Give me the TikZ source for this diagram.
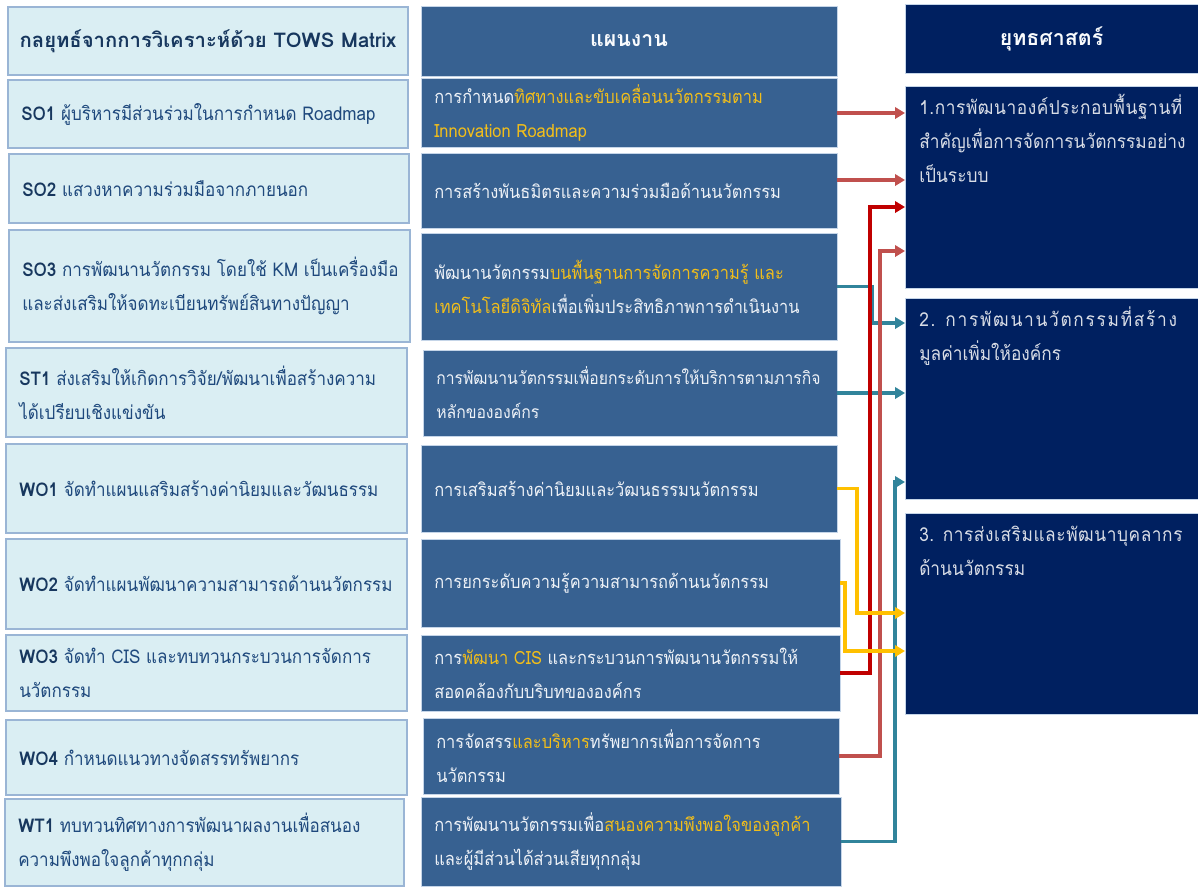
\documentclass[tikz,border=0pt]{standalone}
\usepackage{fontspec}
\setmainfont[Script=Thai, FakeStretch=0.9]{Loma}
\newfontfamily\hfont[Script=Thai]{Loma}
\newfontfamily\lsa[Script=Thai, FakeStretch=0.9, LetterSpace=3]{Loma}
\newfontfamily\lsb[Script=Thai, FakeStretch=0.9, LetterSpace=9]{Loma}
\usetikzlibrary{arrows.meta}
\definecolor{lfill}{HTML}{DAEEF3}
\definecolor{ldraw}{HTML}{9AB5D5}
\definecolor{ltext}{HTML}{1F497D}
\definecolor{lbold}{HTML}{17375E}
\definecolor{mfill}{HTML}{376191}
\definecolor{mdraw}{HTML}{C5D5E8}
\definecolor{mtext}{HTML}{EEF2F7}
\definecolor{hl}{HTML}{F2BE1A}
\definecolor{rfill}{HTML}{002060}
\definecolor{rtext}{HTML}{D9DDE6}
\definecolor{clred}{HTML}{C0504D}
\definecolor{cdred}{HTML}{C00000}
\definecolor{cteal}{HTML}{31849B}
\definecolor{cyel}{HTML}{FFC000}
% box with left-aligned, vertically centred text
\newcommand\mkbox[8]{%
  \pgfmathsetlengthmacro\bw{(#6-#4)*0.75pt}%
  \pgfmathsetlengthmacro\bh{(#7-#5)*0.75pt}%
  \node[#2, minimum width=\bw, minimum height=\bh] (#1) at (#4,#5) {};
  \node[#3, anchor=west] (#1t) at ([xshift=9.75pt]#1.west) {#8};}
% box with centred heading
\newcommand\mkhead[8]{%
  \pgfmathsetlengthmacro\bw{(#6-#4)*0.75pt}%
  \pgfmathsetlengthmacro\bh{(#7-#5)*0.75pt}%
  \node[#2, minimum width=\bw, minimum height=\bh] (#1) at (#4,#5) {};
  \node[#3] (#1t) at (#1.center) {#8};}
\newcommand\hi[1]{\textcolor{hl}{#1}}
\newcommand\pre[1]{\textbf{\textcolor{lbold}{#1}}}
\tikzset{
  boxbase/.style={rectangle, anchor=north west, outer sep=0pt, inner sep=0pt},
  lbox/.style={boxbase, fill=lfill, draw=ldraw, line width=0.9pt},
  mbox/.style={boxbase, fill=mfill, draw=mdraw, line width=0.6pt},
  rbox/.style={boxbase, fill=rfill, draw=mdraw, line width=0.4pt},
  txtbase/.style={inner sep=0pt, align=left},
  ltxt/.style={txtbase, text=ltext, font=\fontsize{14.2}{25.5}\selectfont},
  mtxt/.style={txtbase, text=mtext, font=\fontsize{13.7}{25.5}\selectfont},
  rtxt/.style={txtbase, anchor=north west, text=rtext, font=\fontsize{14.4}{25.5}\selectfont},
  lhtxt/.style={inner sep=0pt, text=lbold, font=\hfont\fontsize{15.2}{20}\selectfont\bfseries},
  hwtxt/.style={inner sep=0pt, text=white!90!mdraw, font=\hfont\fontsize{16}{20}\selectfont\bfseries},
  arr/.style={line width=2.8pt, -{Triangle[length=7.5pt,width=8.5pt]}},
}
\begin{document}
\begin{tikzpicture}[x=0.75pt,y=-0.75pt]
\fill[white] (0,0) rectangle (1198,886);
\useasboundingbox (0,0) rectangle (1198,886);
% left column
\mkhead{lh}{lbox}{lhtxt}{8}{7}{408}{75}{กลยุทธ์จากการวิเคราะห์ด้วย TOWS Matrix}
\mkbox{so1}{lbox}{ltxt}{8}{80}{408}{148}{\pre{SO1} ผู้บริหารมีส่วนร่วมในการกำหนด Roadmap}
\mkbox{so2}{lbox}{ltxt}{9}{154}{409}{223}{\pre{SO2} แสวงหาความร่วมมือจากภายนอก}
\mkbox{so3}{lbox}{ltxt}{9}{230}{410}{342}{\pre{SO3} การพัฒนานวัตกรรม โดยใช้ KM เป็นเครื่องมือ\\และส่งเสริมให้จดทะเบียนทรัพย์สินทางปัญญา}
\mkbox{st1}{lbox}{ltxt}{6}{348}{407}{437}{\pre{ST1} ส่งเสริมให้เกิดการวิจัย/พัฒนาเพื่อสร้างความ\\ได้เปรียบเชิงแข่งขัน}
\mkbox{wo1}{lbox}{ltxt}{6}{444}{407}{533}{\pre{WO1} จัดทำแผนแสริมสร้างค่านิยมและวัฒนธรรม}
\mkbox{wo2}{lbox}{ltxt}{6}{539}{407}{629}{\pre{WO2} จัดทำแผนพัฒนาความสามารถด้านนวัตกรรม}
\mkbox{wo3}{lbox}{ltxt}{6}{635}{407}{711}{\pre{WO3} จัดทำ CIS และทบทวนกระบวนการจัดการ\\นวัตกรรม}
\mkbox{wo4}{lbox}{ltxt}{6}{720}{407}{795}{\pre{WO4} กำหนดแนวทางจัดสรรทรัพยากร}
\mkbox{wt1}{lbox}{ltxt}{5}{799}{404}{886}{\pre{WT1} ทบทวนทิศทางการพัฒนาผลงานเพื่อสนอง\\ความพึงพอใจลูกค้าทุกกลุ่ม}
% middle column
\mkhead{mh}{mbox}{hwtxt}{421}{6}{837}{76}{แผนงาน}
\mkbox{m1}{mbox}{mtxt}{421}{78}{837}{147}{การกำหนด\hi{ทิศทางและขับเคลื่อนนวัตกรรมตาม}\\\hi{Innovation Roadmap}}
\mkbox{m2}{mbox}{mtxt}{421}{153}{837}{228}{การสร้างพันธมิตรและความร่วมมือด้านนวัตกรรม}
\mkbox{m3}{mbox}{mtxt}{421}{233}{837}{340}{พัฒนานวัตกรรม\hi{บนพื้นฐานการจัดการความรู้ และ}\\\hi{เทคโนโลยีดิจิทัล}เพื่อเพิ่มประสิทธิภาพการดำเนินงาน}
\mkbox{m4}{mbox}{mtxt,font=\fontsize{13.1}{25.5}\selectfont}{423}{350}{837}{436}{การพัฒนานวัตกรรมเพื่อยกระดับการให้บริการตามภารกิจ\\หลักขององค์กร}
\mkbox{m5}{mbox}{mtxt}{421}{445}{837}{532}{การเสริมสร้างค่านิยมและวัฒนธรรมนวัตกรรม}
\mkbox{m6}{mbox}{mtxt}{421}{539}{840}{627}{การยกระดับความรู้ความสามารถด้านนวัตกรรม}
\mkbox{m7}{mbox}{mtxt}{421}{635}{840}{711}{การ\hi{พัฒนา CIS} และกระบวนการพัฒนานวัตกรรมให้\\สอดคล้องกับบริบทขององค์กร}
\mkbox{m8}{mbox}{mtxt}{423}{718}{839}{794}{การจัดสรร\hi{และบริหาร}ทรัพยากรเพื่อการจัดการ\\นวัตกรรม}
\mkbox{m9}{mbox}{mtxt}{421}{797}{841}{886}{การพัฒนานวัตกรรมเพื่อ\hi{สนองความพึงพอใจของลูกค้า}\\และผู้มีส่วนได้ส่วนเสียทุกกลุ่ม}
% right column
\mkhead{rh}{rbox}{hwtxt}{905}{4}{1198}{73}{ยุทธศาสตร์}
\mkhead{r1}{rbox}{rtxt}{905}{86}{1198}{288}{}
\mkhead{r2}{rbox}{rtxt}{905}{298}{1198}{499}{}
\mkhead{r3}{rbox}{rtxt}{905}{513}{1198}{714}{}
\node[rtxt] (r1x) at ([xshift=10.5pt,yshift=-4pt]r1.north west) {\rule{0pt}{17pt}{\lsa 1.การพัฒนาองค์ประกอบพื้นฐานที่}\\สำคัญเพื่อการจัดการนวัตกรรมอย่าง\\เป็นระบบ};
\node[rtxt] (r2x) at ([xshift=10.5pt,yshift=-4pt]r2.north west) {\rule{0pt}{17pt}{\lsb 2. การพัฒนานวัตกรรมที่สร้าง}\\มูลค่าเพิ่มให้องค์กร};
\node[rtxt] (r3x) at ([xshift=10.5pt,yshift=-4pt]r3.north west) {\rule{0pt}{17pt}{\lsa 3. การส่งเสริมและพัฒนาบุคลากร}\\ด้านนวัตกรรม};
% connectors
\draw[arr, cteal] (m3.east) -| (872,323) -- (r2.west |- 0,323);
\draw[arr, cteal] (m4.east) -- (r2.west |- m4.east);
\draw[arr, cteal] (m9.east) -| (895,482) -- (r2.west |- 0,482);
\draw[arr, clred] (m1.east |- 0,113) -- (r1.west |- 0,113);
\draw[arr, clred] (m2.east |- 0,180) -- (r1.west |- 0,180);
\draw[arr, cdred] (m7.east) -| (870,207) -- (r1.west |- 0,207);
\draw[arr, clred] (m8.east) -| (880,251) -- (r1.west |- 0,251);
\draw[arr, cyel] (m5.east) -| (857,613) -- (r3.west |- 0,613);
\draw[arr, cyel] (m6.east) -| (845,651) -- (r3.west |- 0,651);
\end{tikzpicture}
\end{document}
